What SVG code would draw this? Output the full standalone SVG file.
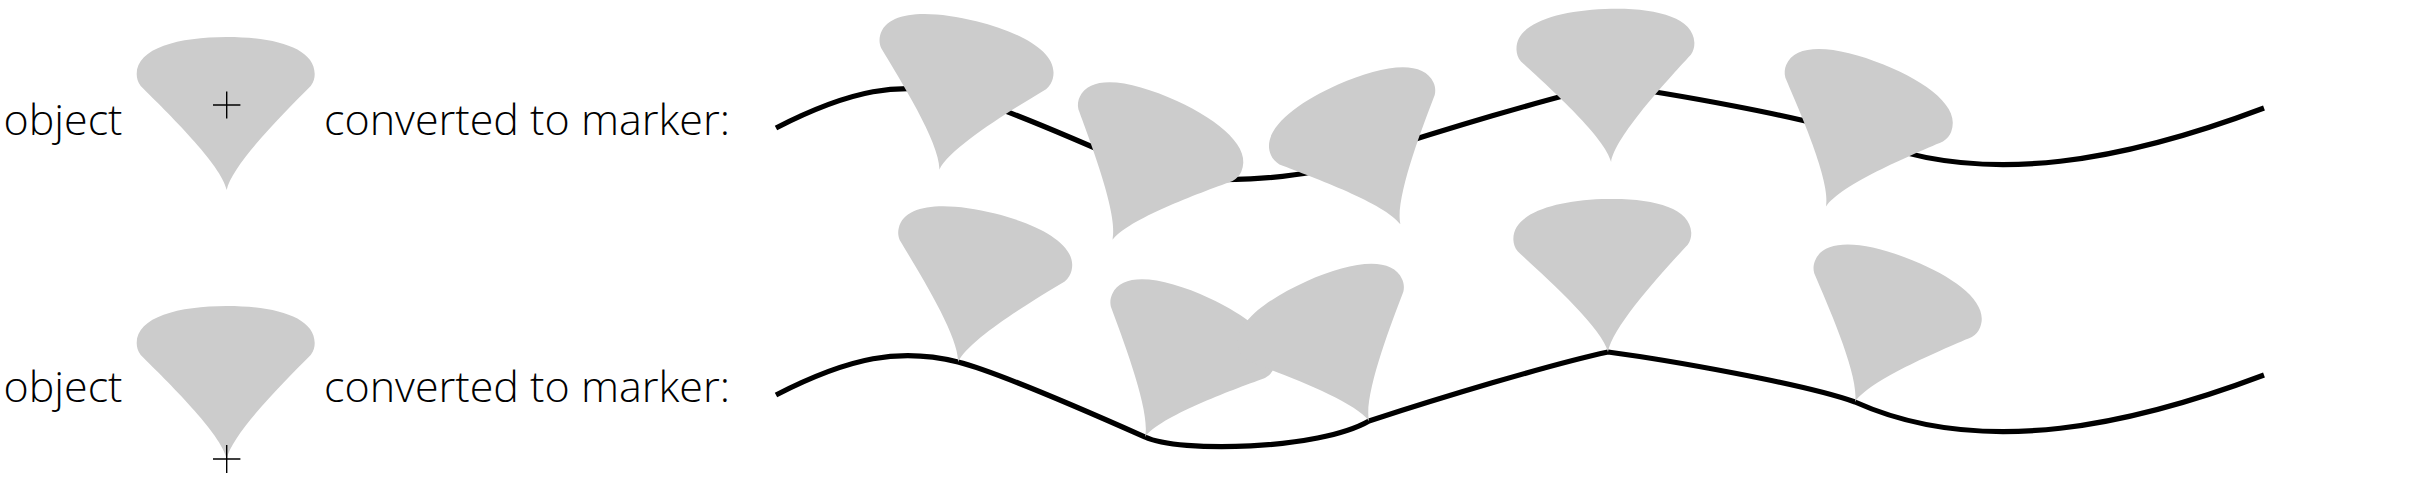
<svg xmlns="http://www.w3.org/2000/svg" width="2410" height="480" viewBox="0 0 2410 480">
<defs>
<style>
.lbl{font-family:"Open Sans","Noto Sans","Liberation Sans",sans-serif;font-size:43px;font-weight:300;fill:#000}
.shape{fill:#cccccc}
.cross{stroke:#000;stroke-width:1.4;fill:none}
.line{fill:none;stroke:#000;stroke-width:5.2}
</style>
<path id="drop" d="M0,0 C-5,-25 -60,-78 -86,-104 C-89,-108 -90,-112 -90,-116 C-90,-142 -48,-153 0,-153 C48,-153 88,-142 88,-116 C88,-112 87,-108 84,-104 C58,-78 5,-25 0,0Z"/>
<marker id="mCenter" markerUnits="userSpaceOnUse" orient="auto" refX="0" refY="-77" markerWidth="200" markerHeight="200" overflow="visible">
<use href="#drop" class="shape"/>
</marker>
<marker id="mTip" markerUnits="userSpaceOnUse" orient="auto" refX="0" refY="0" markerWidth="200" markerHeight="200" overflow="visible">
<use href="#drop" class="shape"/>
</marker>
</defs>
<rect x="0" y="0" width="2410" height="480" fill="#fff"/>
<g id="label-top">
<text class="lbl" x="3.5" y="135" textLength="119" lengthAdjust="spacingAndGlyphs">object</text>
<text class="lbl" x="324" y="135" textLength="406" lengthAdjust="spacingAndGlyphs">converted to marker:</text>
</g>
<g id="label-bottom">
<text class="lbl" x="3.5" y="402" textLength="119" lengthAdjust="spacingAndGlyphs">object</text>
<text class="lbl" x="324" y="402" textLength="406" lengthAdjust="spacingAndGlyphs">converted to marker:</text>
</g>
<g id="object-top">
<use href="#drop" class="shape" transform="translate(226.7,190)"/>
<path class="cross" d="M213,105H240.4M226.7,91.5V118.5"/>
</g>
<g id="object-bottom">
<use href="#drop" class="shape" transform="translate(226.7,459)"/>
<path class="cross" d="M213,459H240.4M226.7,445V473"/>
</g>
<g id="connectors">
<path id="line-top" class="line" marker-mid="url(#mCenter)" transform="translate(0,-267)" d="M776,395 C850,357 900,347.5 958,362 C1000,372.5 1100,417 1145,437 C1178,453 1319,450 1369,421 C1439,398.3 1548,365 1608,352 C1668,360 1805,384 1855,402 C1984,460 2137,423 2264,375"/>
<path id="line-bottom" class="line" marker-mid="url(#mTip)" d="M776,395 C850,357 900,347.5 958,362 C1000,372.5 1100,417 1145,437 C1178,453 1319,450 1369,421 C1439,398.3 1548,365 1608,352 C1668,360 1805,384 1855,402 C1984,460 2137,423 2264,375"/>
</g>
</svg>
